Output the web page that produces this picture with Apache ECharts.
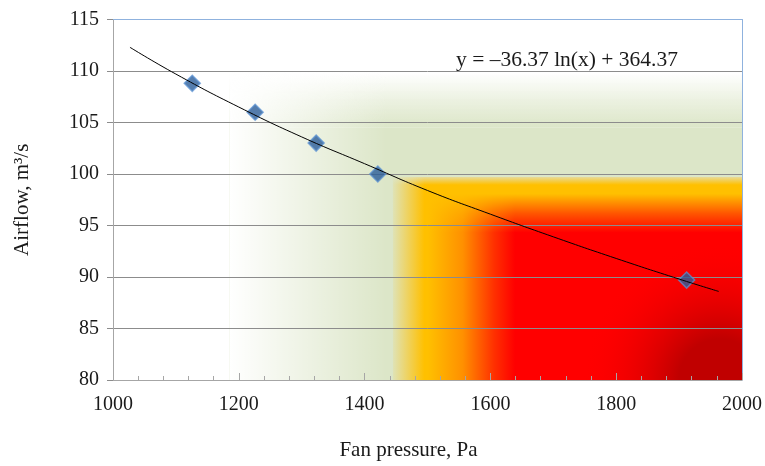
<!DOCTYPE html>
<html>
<head>
<meta charset="utf-8">
<script src="https://cdn.jsdelivr.net/npm/echarts@6/dist/echarts.min.js"></script>
<style>
  html, body { margin: 0; padding: 0; background: #fff; }
  #chart { width: 765px; height: 466px; }
</style>
</head>
<body>
<div id="chart"></div>
<script>
// measured points (fan pressure Pa, airflow m3/s)
var pressure = [1126, 1226, 1323, 1421, 1912];
var airflow = [108.8, 106.0, 103.0, 100.0, 89.7];

// log trendline
var trendX = [1027, 1100, 1200, 1300, 1400, 1500, 1600, 1700, 1800, 1900, 1963];
var trendY = [112.3, 109.7, 106.5, 103.6, 101.0, 98.4, 96.1, 93.9, 91.8, 89.8, 88.6];

var xTicks = [1000, 1200, 1400, 1600, 1800, 2000];
var yTicks = [80, 85, 90, 95, 100, 105, 110, 115];
var equation = 'y = \u201336.37 ln(x) + 364.37';

var myChart = echarts.init(document.getElementById('chart'));

var font = 'Liberation Serif';
var green = '#dce6c8';
var LG = echarts.graphic.LinearGradient;
var RG = echarts.graphic.RadialGradient;

function zone(x0, x1, y0, y1, color) {
  return [{ xAxis: x0, yAxis: y0, itemStyle: { color: color } }, { xAxis: x1, yAxis: y1 }];
}

var zones = [
  // green zone
  zone(1185, 2000, 80, 104.5, green),
  zone(1185, 2000, 104.5, 109.8, new LG(0, 0, 0, 1, [
    { offset: 0, color: 'rgba(220,230,200,0)' },
    { offset: 0.5, color: 'rgba(220,230,200,0.55)' },
    { offset: 1, color: green }
  ])),
  zone(1185, 1435, 80, 110, new LG(0, 0, 1, 0, [
    { offset: 0, color: 'rgba(255,255,255,1)' },
    { offset: 1, color: 'rgba(255,255,255,0)' }
  ])),
  // hot zone: yellow -> red to the right, yellow band along the top
  zone(1445, 2000, 80, 99.7, new LG(0, 0, 1, 0, [
    { offset: 0, color: '#ffc000' },
    { offset: 0.1, color: '#ffc000' },
    { offset: 0.2, color: '#ff9000' },
    { offset: 0.29, color: '#ff3000' },
    { offset: 0.35, color: '#ff0000' },
    { offset: 1, color: '#ff0000' }
  ])),
  zone(1445, 2000, 94.3, 99.7, new LG(0, 0, 0, 1, [
    { offset: 0, color: 'rgba(232,218,150,1)' },
    { offset: 0.14, color: 'rgba(255,192,0,1)' },
    { offset: 0.3, color: 'rgba(255,192,0,1)' },
    { offset: 0.65, color: 'rgba(255,192,0,0.45)' },
    { offset: 1, color: 'rgba(255,192,0,0)' }
  ])),
  zone(1440, 1495, 80, 99.7, new LG(0, 0, 1, 0, [
    { offset: 0, color: 'rgba(220,230,200,1)' },
    { offset: 1, color: 'rgba(220,230,200,0)' }
  ])),
  zone(1650, 2000, 80, 94, new RG(0.9, 1, 0.95, [
    { offset: 0, color: 'rgba(192,0,0,1)' },
    { offset: 0.3, color: 'rgba(192,0,0,1)' },
    { offset: 1, color: 'rgba(255,0,0,0)' }
  ]))
];

var option = {
  animation: false,
  title: {
    text: equation,
    left: 451,
    top: 44,
    textStyle: { fontFamily: font, fontSize: 21.5, fontWeight: 'normal', color: '#1a1a1a' }
  },
  grid: { left: 113, right: 23, top: 19.5, bottom: 83 },
  xAxis: [{
    type: 'value',
    min: xTicks[0],
    max: xTicks[xTicks.length - 1],
    interval: 200,
    z: 3,
    name: 'Fan pressure, Pa',
    nameLocation: 'middle',
    nameGap: 60,
    nameTextStyle: { fontFamily: font, fontSize: 21, color: '#1a1a1a', padding: [0, 38, 0, 0] },
    axisLine: { lineStyle: { color: '#a6a6a6' } },
    axisTick: { inside: true, length: 7, lineStyle: { color: '#a6a6a6' } },
    minorTick: { show: true, inside: true, splitNumber: 5, length: 4, lineStyle: { color: '#a6a6a6' } },
    splitLine: { show: false },
    axisLabel: { margin: 15, fontFamily: font, fontSize: 20, color: '#1a1a1a', formatter: function (v) { return String(v); } }
  }, {
    type: 'value',
    position: 'top',
    min: xTicks[0],
    max: xTicks[xTicks.length - 1],
    z: 3,
    axisLine: { show: true, lineStyle: { color: '#8fb2de' } },
    axisTick: { show: false },
    axisLabel: { show: false },
    splitLine: { show: false }
  }],
  yAxis: [{
    type: 'value',
    min: yTicks[0],
    max: yTicks[yTicks.length - 1],
    interval: 5,
    z: 3,
    name: 'Airflow, m\u00b3/s',
    nameLocation: 'middle',
    nameGap: 80,
    nameTextStyle: { fontFamily: font, fontSize: 21, color: '#1a1a1a' },
    axisLine: { show: true, lineStyle: { color: '#a6a6a6' } },
    axisTick: { show: true, length: 6, lineStyle: { color: '#8c8c8c' } },
    splitLine: { show: true, lineStyle: { color: '#8c8c8c', width: 1 } },
    axisLabel: { margin: 14, fontFamily: font, fontSize: 20, color: '#1a1a1a' }
  }, {
    type: 'value',
    position: 'right',
    min: yTicks[0],
    max: yTicks[yTicks.length - 1],
    z: 3,
    axisLine: { show: true, lineStyle: { color: '#8fb2de' } },
    axisTick: { show: false },
    axisLabel: { show: false },
    splitLine: { show: false }
  }],
  series: [{
    name: 'zones',
    type: 'line',
    data: [],
    z: 1,
    silent: true,
    markArea: { silent: true, label: { show: false }, data: zones }
  }, {
    name: 'measured',
    type: 'scatter',
    z: 5,
    symbol: 'diamond',
    symbolSize: 16,
    itemStyle: { color: '#2b5c99', borderColor: 'rgba(90,145,210,0.9)', borderWidth: 1.5 },
    data: pressure.map(function (p, i) { return [p, airflow[i]]; })
  }, {
    name: 'trend',
    type: 'line',
    z: 6,
    smooth: true,
    symbol: 'none',
    lineStyle: { color: '#000', width: 1 },
    data: trendX.map(function (p, i) { return [p, trendY[i]]; })
  }]
};

myChart.setOption(option);
</script>
</body>
</html>
